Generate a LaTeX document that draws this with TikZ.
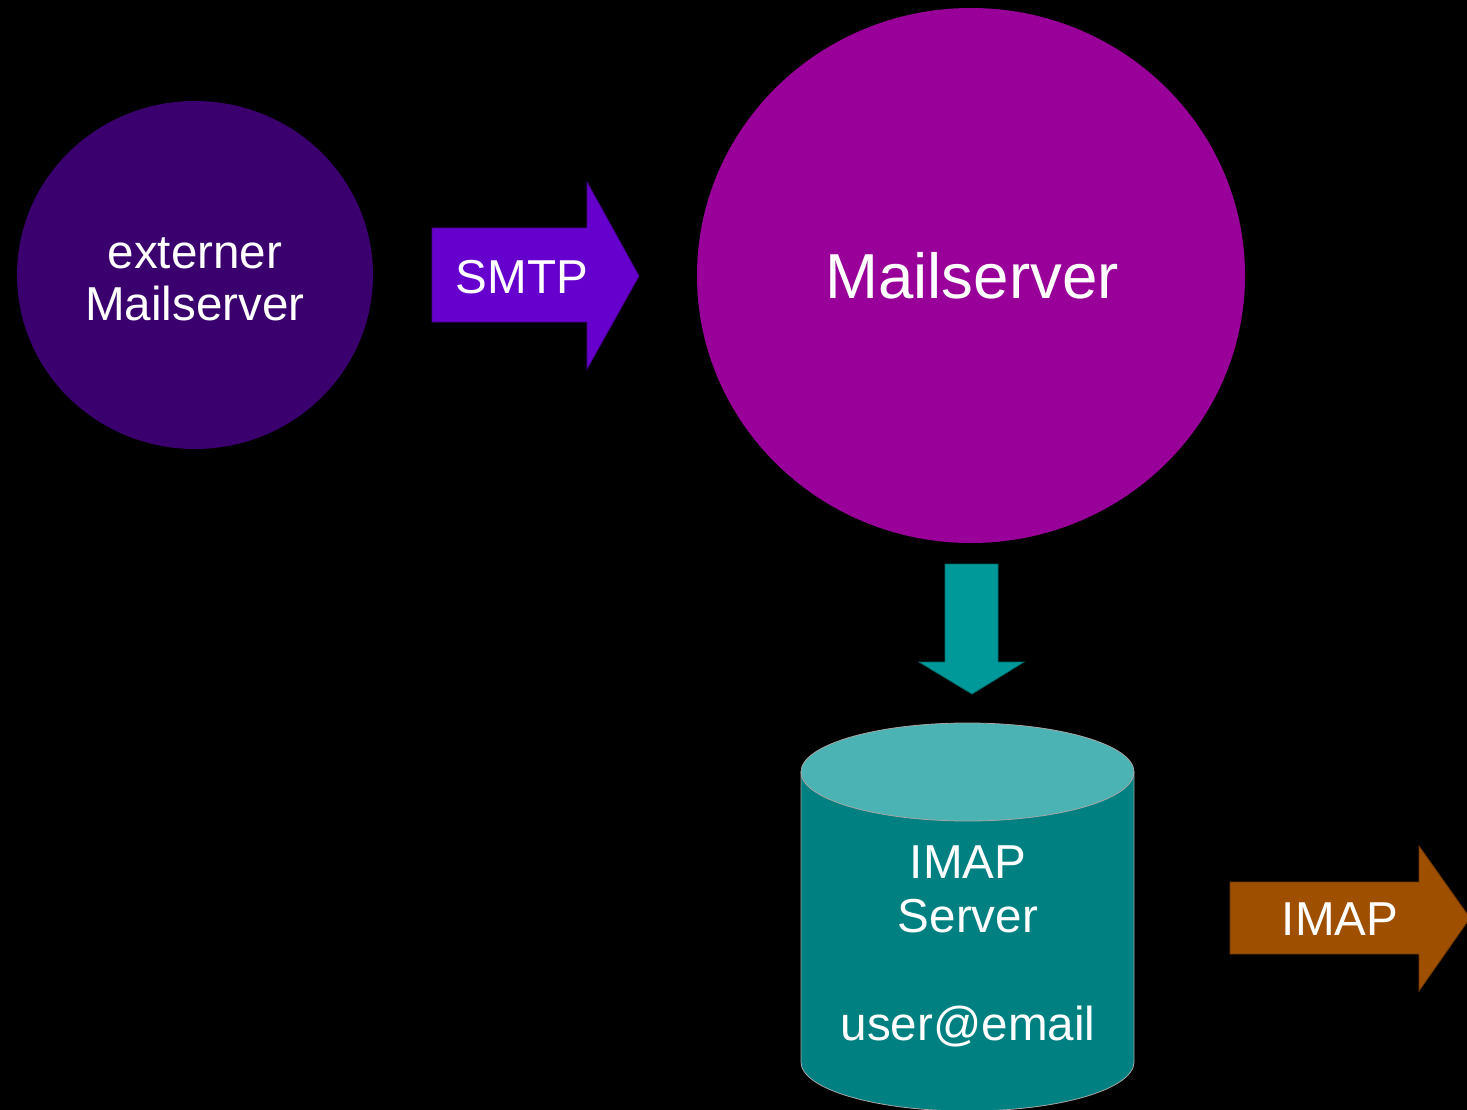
\documentclass[tikz,border=0pt]{standalone}
\usepackage{fontspec}
\setmainfont{Liberation Sans}
\usetikzlibrary{shapes.geometric}
\definecolor{extpurple}{HTML}{3A006E}
\definecolor{smtpviolet}{HTML}{6600CC}
\definecolor{mailmagenta}{HTML}{990099}
\definecolor{dropteal}{HTML}{009999}
\definecolor{cylbody}{HTML}{008080}
\definecolor{cyltop}{HTML}{4BB3B3}
\definecolor{imapbrown}{HTML}{9E4F00}
\tikzset{
  server/.style={ellipse, inner sep=0pt, draw=none},
  label47/.style={text=white, font=\fontsize{47.6}{55}\selectfont, inner sep=0pt, anchor=base},
  label63/.style={text=white, font=\fontsize{63.6}{70}\selectfont, inner sep=0pt, anchor=base},
  blockarrow/.style={line width=0.8pt, line join=miter},
}
\begin{document}
\begin{tikzpicture}[x=1pt, y=-1pt]
  \useasboundingbox (0,0) rectangle (1467,1110);
  \fill[black] (0,0) rectangle (1467,1110);
  \clip (0,0) rectangle (1467,1110);

  % external mail server
  \node[server, fill=extpurple, minimum width=356pt, minimum height=348pt] (ext) at (195,275) {};
  \node[label47] (extA) at (195,268) {externer};
  \node[label47] (extB) at (195,320) {Mailserver};

  % SMTP block arrow
  \fill[smtpviolet, draw=smtpviolet!70!black, blockarrow]
    (432,228) -- (587,228) -- (587,182) -- (639,276) -- (587,369) -- (587,322) -- (432,322) -- cycle;
  \node[label47] (smtp) at (522,293) {SMTP};

  % main mail server
  \node[server, fill=mailmagenta, minimum width=548pt, minimum height=535pt] (mail) at (971,275.5) {};
  \node[label63] (mailtxt) at (972,298) {Mailserver};

  % delivery arrow down to the store
  \fill[dropteal, draw=dropteal!70!black, blockarrow]
    (945,564) -- (998,564) -- (998,662) -- (1024,662) -- (972,694) -- (919,662) -- (945,662) -- cycle;

  % IMAP mailbox store (cylinder)
  \filldraw[fill=cylbody, draw=gray!70, line width=0.8pt]
    (801,772) -- (801,1062) arc[start angle=180, end angle=0, x radius=166.5, y radius=49]
    -- (1134,772) -- cycle;
  \filldraw[fill=cyltop, draw=gray!70, line width=0.8pt]
    (967.5,772) ellipse [x radius=166.5, y radius=49];
  \node[label47] (imapA) at (968,878) {IMAP};
  \node[label47] (imapB) at (968,932) {Server};
  \node[label47] (user) at (968,1040) {user@email};

  % IMAP block arrow
  \fill[imapbrown, draw=imapbrown!70!black, blockarrow]
    (1230,882) -- (1419,882) -- (1419,846) -- (1470,918) -- (1419,991) -- (1419,954) -- (1230,954) -- cycle;
  \node[label47] (imapout) at (1340,935) {IMAP};
\end{tikzpicture}
\end{document}
